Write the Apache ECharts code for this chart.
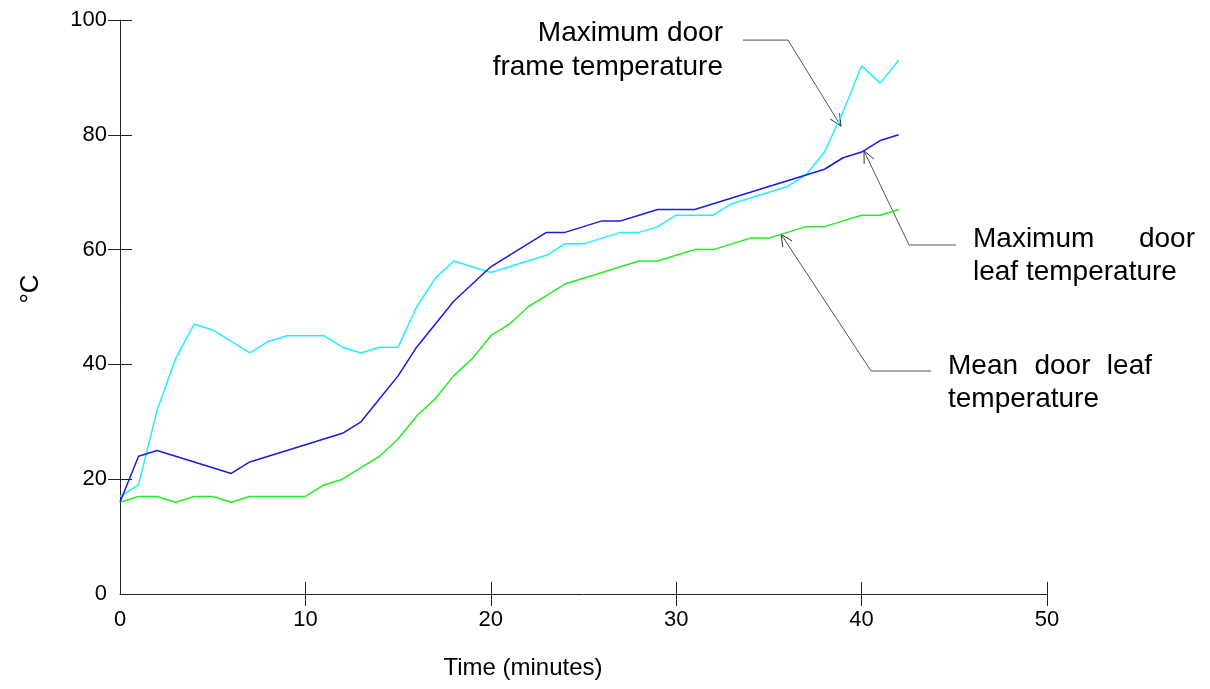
<!DOCTYPE html>
<html><head><meta charset="utf-8">
<script src="https://cdn.jsdelivr.net/npm/echarts@6/dist/echarts.min.js"></script>
<style>html,body{margin:0;padding:0;background:#fff}#c{width:1210px;height:689px}</style>
</head><body><div id="c"></div><script>
const minutes = [0,1,2,3,4,5,6,7,8,9,10,11,12,13,14,15,16,17,18,19,20,21,22,23,24,25,26,27,28,29,30,31,32,33,34,35,36,37,38,39,40,41,42];
const frameMax = [17,19,32,41,47,46,44,42,44,45,45,45,43,42,43,43,50,55,58,57,56,57,58,59,61,61,62,63,63,64,66,66,66,68,69,70,71,73,77,84,92,89,93];
const leafMax  = [16,24,25,24,23,22,21,23,24,25,26,27,28,30,34,38,43,47,51,54,57,59,61,63,63,64,65,65,66,67,67,67,68,69,70,71,72,73,74,76,77,79,80];
const leafMean = [16,17,17,16,17,17,16,17,17,17,17,19,20,22,24,27,31,34,38,41,45,47,50,52,54,55,56,57,58,58,59,60,60,61,62,62,63,64,64,65,66,66,67];
const xTickLabels = [0,10,20,30,40,50];
const yTickLabels = [0,20,40,60,80,100];
const xTitle = 'Time (minutes)';
const yTitle = '°C';
const labelFrame = ['Maximum door', 'frame temperature'];
const labelLeaf = ['Maximum door', 'leaf temperature'];
const labelMean = ['Mean door leaf', 'temperature'];

const FONT = '"Liberation Sans", Arial, sans-serif';
const AX = '#222';
const chart = echarts.init(document.getElementById('c'), null, {renderer: 'canvas'});

function pairs(ys){ return minutes.map((m,i)=>[m, ys[i]]); }

const tickOut = (vals)=>({show:true, length:12, inside:false, lineStyle:{color:AX,width:1}, customValues: vals});
const tickIn = (vals)=>({show:true, length:12, inside:true, lineStyle:{color:AX,width:1}, customValues: vals});

chart.setOption({
  animation:false,
  backgroundColor:'#fff',
  grid:{left:120, top:20, right:163, bottom:95, containLabel:false},
  xAxis:[{
    type:'value', min:0, max:50, interval:10, position:'bottom',
    axisLine:{show:true, onZero:false, lineStyle:{color:AX,width:1}},
    axisTick:tickOut(xTickLabels.slice(1)),
    axisLabel:{show:true, color:'#000', fontSize:22, fontFamily:FONT, margin:15, customValues:xTickLabels},
    splitLine:{show:false}
  },{
    type:'value', min:0, max:50, interval:10, position:'bottom', offset:0,
    axisLine:{show:false},
    axisTick:tickIn(xTickLabels.slice(1)),
    axisLabel:{show:false}, splitLine:{show:false}
  }],
  yAxis:[{
    type:'value', min:0, max:100, interval:20, position:'left',
    axisLine:{show:true, onZero:false, lineStyle:{color:AX,width:1}},
    axisTick:tickOut(yTickLabels.slice(1)),
    axisLabel:{show:true, color:'#000', fontSize:22, fontFamily:FONT, margin:13, customValues:yTickLabels},
    splitLine:{show:false}
  },{
    type:'value', min:0, max:100, interval:20, position:'left', offset:0,
    axisLine:{show:false},
    axisTick:tickIn(yTickLabels.slice(1)),
    axisLabel:{show:false}, splitLine:{show:false}
  }],
  series:[
    {type:'line', name:'frame', data:pairs(frameMax), showSymbol:false, symbol:'none', lineStyle:{color:'#22eeff', width:1.5}, z:3},
    {type:'line', name:'leafMax', data:pairs(leafMax), showSymbol:false, symbol:'none', lineStyle:{color:'#1a1ae6', width:1.5}, z:4},
    {type:'line', name:'leafMean', data:pairs(leafMean), showSymbol:false, symbol:'none', lineStyle:{color:'#22ee22', width:1.5}, z:2}
  ]
});

// annotations anchored in data coordinates
const annos = [
  {tip:[38.89,81.5], elbow:[36.03,96.5], end:[33.6,96.5]},
  {tip:[40.13,77.2], elbow:[42.56,60.8], end:[45.09,60.8]},
  {tip:[35.65,62.7], elbow:[40.51,38.85], end:[43.74,38.85]}
];
const P = (d)=>chart.convertToPixel({xAxisIndex:0, yAxisIndex:0}, d);
const ctx = document.createElement('canvas').getContext('2d');
const AFS = 28;
ctx.font = AFS + 'px ' + FONT;
const tw = (s)=>ctx.measureText(s).width;

const g = [];
const LC = '#555';
annos.forEach(a=>{
  const t=P(a.tip), e=P(a.elbow), n=P(a.end);
  g.push({type:'polyline', shape:{points:[n,e,t]}, style:{stroke:LC, lineWidth:1, fill:null}, silent:true});
  const dx=t[0]-e[0], dy=t[1]-e[1], L=Math.hypot(dx,dy), ux=dx/L, uy=dy/L;
  const ang=25*Math.PI/180, len=13;
  const arm=(s)=>{const c=Math.cos(s*ang), sn=Math.sin(s*ang); const rx=ux*c-uy*sn, ry=ux*sn+uy*c; return [t[0]-rx*len, t[1]-ry*len];};
  g.push({type:'polyline', shape:{points:[arm(1),t,arm(-1)]}, style:{stroke:'#333', lineWidth:1, fill:null}, silent:true});
});

function txt(s,x,y,align){ g.push({type:'text', x:x, y:y, style:{text:s, fill:'#000', font:AFS+'px '+FONT, align:align||'left', verticalAlign:'middle'}, silent:true}); }
function justify(words, x0, x1, y){
  const total = words.reduce((s,w)=>s+tw(w),0);
  const gap = (x1-x0-total)/(words.length-1);
  let x=x0;
  words.forEach(w=>{ txt(w,x,y,'left'); x+=tw(w)+gap; });
}
txt(labelFrame[0], 723, 33, 'right');
txt(labelFrame[1], 723, 67, 'right');
justify(labelLeaf[0].split(' '), 973, 1195, 239);
txt(labelLeaf[1], 973, 272, 'left');
justify(labelMean[0].split(' '), 948, 1152, 366);
txt(labelMean[1], 948, 399, 'left');

g.push({type:'text', x:523, y:668, style:{text:xTitle, fill:'#000', font:'24px '+FONT, align:'center', verticalAlign:'middle'}, silent:true});
g.push({type:'text', x:31, y:289, rotation:Math.PI/2, style:{text:yTitle, fill:'#000', font:'26px '+FONT, align:'center', verticalAlign:'middle'}, silent:true});

chart.setOption({graphic:g});
</script></body></html>
